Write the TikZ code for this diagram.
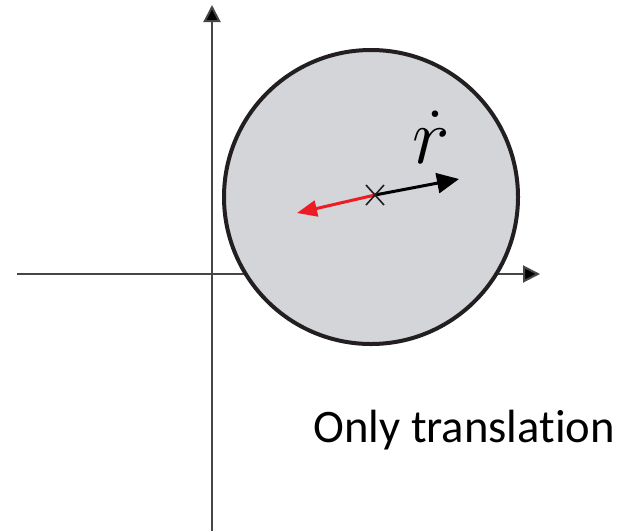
\RequirePackage{fix-cm}
\documentclass[tikz,border=0pt]{standalone}
\usepackage{fontspec}
\newfontfamily\labelfont[Ligatures=NoCommon]{Carlito}
\usetikzlibrary{arrows.meta, positioning, calc}
\definecolor{bodygray}{RGB}{211, 213, 216}
\definecolor{bodyedge}{RGB}{35, 31, 32}
\definecolor{axisgray}{RGB}{70, 70, 70}
\definecolor{velred}{RGB}{237, 28, 36}

\begin{document}
\begin{tikzpicture}[
  x=0.5pt, y=-0.5pt,
  axis/.style={draw=axisgray, line width=1pt, -{Triangle[length=8.5pt, width=8.5pt, fill=black]}},
  body/.style={circle, draw=bodyedge, fill=bodygray, line width=2pt, minimum size=147pt, inner sep=0pt},
  vel/.style={line width=1.5pt, -{Triangle[length=11pt, width=10pt]}},
  crossmark/.style={draw=bodyedge, line width=0.8pt}
]
  \useasboundingbox (0,0) rectangle (625,531);

  % axes
  \coordinate (xstart) at (17,274);
  \coordinate (xend) at (540,274);
  \coordinate (ystart) at (212,531);
  \coordinate (yend) at (212,5);
  \draw[axis] (xstart) -- (xend);
  \draw[axis] (ystart) -- (yend);

  % rigid body
  \node[body] (disc) at (371,197) {};
  \coordinate (cm) at (375,195);
  \coordinate (vtip) at (459,179);
  \coordinate (rtip) at (297,213);
  \draw[vel, velred, -{Triangle[length=10pt, width=8pt]}] (cm) -- (rtip);
  \draw[vel, black] (cm) -- (vtip);
  \draw[crossmark] ($(cm)+(-9,-10)$) -- ($(cm)+(9,10)$);
  \draw[crossmark] ($(cm)+(-9,10)$) -- ($(cm)+(9,-10)$);

  \node[font=\fontsize{40}{40}\selectfont, inner sep=0pt, anchor=base] (rdot) at (431,163) {$\dot{r}$};

  \node[font=\labelfont\fontsize{23.3}{28}\selectfont, inner sep=0pt, anchor=base west] (note) at (313,442) {Only translation};
\end{tikzpicture}
\end{document}
